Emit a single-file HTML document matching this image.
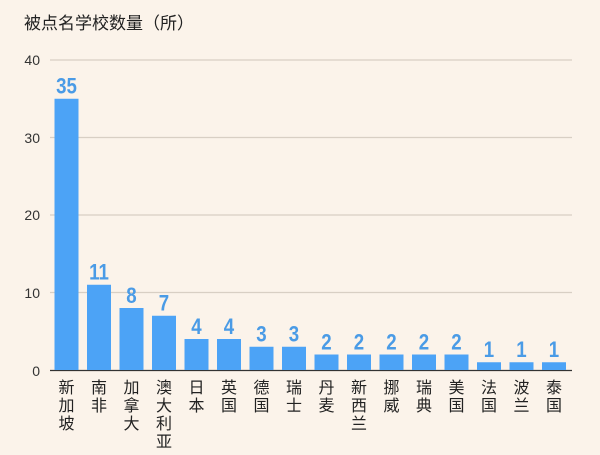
<!DOCTYPE html><html><head><meta charset="utf-8"><style>
body{margin:0;width:600px;height:450px;background:#fbf3ea;overflow:hidden;font-family:"Liberation Sans","Noto Sans CJK SC",sans-serif}
</style></head><body>
<svg width="600" height="450" xmlns="http://www.w3.org/2000/svg" font-family="Liberation Sans, Noto Sans CJK SC, sans-serif">
<rect width="600" height="450" fill="#fbf3ea"/>
<text x="24" y="29" font-size="17" fill="#222">被点名学校数量（所）</text>
<g stroke="#d8cfc4" stroke-width="1.2">
<line x1="50" x2="572" y1="60" y2="60"/><line x1="50" x2="572" y1="137.5" y2="137.5"/><line x1="50" x2="572" y1="215" y2="215"/><line x1="50" x2="572" y1="292.5" y2="292.5"/>
</g>
<line x1="50" x2="572" y1="370.5" y2="370.5" stroke="#333" stroke-width="1.2"/>
<g font-size="14" fill="#333" text-anchor="end">
<text x="40" y="65">40</text><text x="40" y="143">30</text><text x="40" y="220">20</text><text x="40" y="298">10</text><text x="40" y="376">0</text>
</g>
<g id="bars"></g>
</svg>
<script>
var d=[["新加坡",35],["南非",11],["加拿大",8],["澳大利亚",7],["日本",4],["英国",4],["德国",3],["瑞士",3],["丹麦",2],["新西兰",2],["挪威",2],["瑞典",2],["美国",2],["法国",1],["波兰",1],["泰国",1]];
var g=document.getElementById("bars"),s="";
d.forEach(function(e,i){var x=54.5+i*32.5,h=e[1]*7.75,y=370-h;
s+='<rect x="'+x+'" y="'+y+'" width="24" height="'+h+'" fill="#4ca3f6"/>';
s+='<text x="'+(x+12)+'" y="'+(y-5)+'" font-size="22" font-weight="bold" fill="#4a9be6" text-anchor="middle" transform="translate('+(x+12)+','+(y-5)+') scale(0.85,1) translate('+(-(x+12))+','+(-(y-5))+')">'+e[1]+'</text>';
for(var k=0;k<e[0].length;k++)s+='<text x="'+(x+12)+'" y="'+(393+k*18)+'" font-size="16" fill="#222" text-anchor="middle">'+e[0][k]+'</text>';});
g.innerHTML=s;
</script>
</body></html>
